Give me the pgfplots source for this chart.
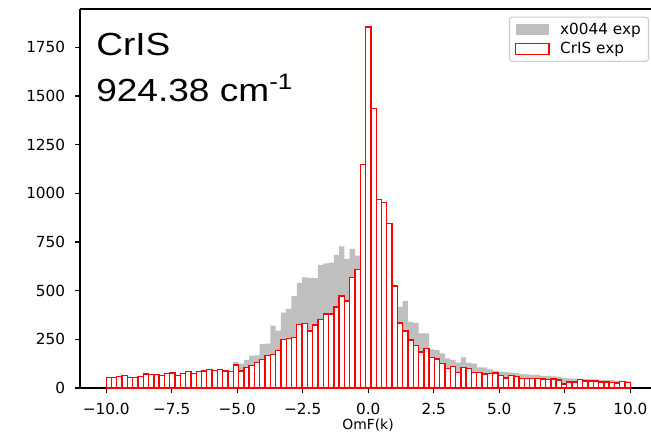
\documentclass[border=0pt]{standalone}
\usepackage{fontspec}
\setmainfont{DejaVu Sans}
\newfontfamily\arialfont[FakeStretch=1.16]{Liberation Sans}
\usepackage{pgfplots}
\usepackage{pgfplotstable}
\pgfplotsset{compat=1.18}
\usetikzlibrary{calc}

\definecolor{histgray}{RGB}{191,191,191}
\definecolor{legendedge}{RGB}{204,204,204}
\definecolor{histred}{RGB}{255,0,0}

% left bin edges (99 bins from -10 to 10), counts per bin
\pgfplotstableread{
edge gray red
-10.0000 50 55
-9.7980 52 55
-9.5960 55 60
-9.3939 58 65
-9.1919 52 55
-8.9899 52 55
-8.7879 56 60
-8.5859 66 72
-8.3838 64 68
-8.1818 64 68
-7.9798 60 63
-7.7778 70 74
-7.5758 72 78
-7.3737 60 63
-7.1717 72 75
-6.9697 80 86
-6.7677 72 75
-6.5657 82 86
-6.3636 84 88
-6.1616 90 96
-5.9596 88 91
-5.7576 92 96
-5.5556 86 88
-5.3535 82 84
-5.1515 135 118
-4.9495 126 88
-4.7475 144 104
-4.5455 166 117
-4.3434 168 132
-4.1414 225 148
-3.9394 228 167
-3.7374 320 171
-3.5354 295 192
-3.3333 388 250
-3.1313 406 255
-2.9293 472 260
-2.7273 540 327
-2.5253 568 332
-2.3232 566 292
-2.1212 565 323
-1.9192 632 352
-1.7172 640 380
-1.5152 644 380
-1.3131 684 417
-1.1111 728 472
-0.9091 662 447
-0.7071 715 568
-0.5051 680 609
-0.3030 690 1148
-0.1010 640 1854
0.1010 600 1435
0.3030 560 970
0.5051 530 953
0.7071 500 845
0.9091 470 525
1.1111 417 334
1.3131 446 292
1.5152 340 246
1.7172 335 217
1.9192 281 186
2.1212 281 202
2.3232 198 156
2.5253 195 150
2.7273 178 125
2.9293 152 101
3.1313 144 111
3.3333 130 80
3.5354 157 106
3.7374 130 99
3.9394 125 79
4.1414 106 79
4.3434 106 72
4.5455 96 74
4.7475 90 77
4.9495 84 64
5.1515 82 52
5.3535 79 64
5.5556 76 60
5.7576 72 48
5.9596 70 48
6.1616 67 48
6.3636 67 50
6.5657 62 47
6.7677 62 43
6.9697 60 46
7.1717 58 41
7.3737 52 21
7.5758 50 32
7.7778 48 32
7.9798 47 45
8.1818 46 36
8.3838 45 36
8.5859 44 36
8.7879 42 32
8.9899 40 32
9.1919 40 27
9.3939 38 26
9.5960 37 34
9.7980 35 27
10.0000 0 0
}\omftable

\begin{document}
\begin{tikzpicture}
\begin{axis}[
    scale only axis,
    width=411.1pt,
    height=272.9pt,
    xmin=-11, xmax=10.79,
    ymin=0, ymax=1947,
    axis lines*=left,
    axis line style={line width=0.8pt, black},
    tick align=outside,
    major tick length=3.5pt,
    major tick style={line width=0.8pt, black},
    xtick={-10,-7.5,-5,-2.5,0,2.5,5,7.5,10},
    xticklabels={−10.0,−7.5,−5.0,−2.5,0.0,2.5,5.0,7.5,10.0},
    ytick={0,250,500,750,1000,1250,1500,1750},
    /pgf/number format/assume math mode=true,
    /pgf/number format/1000 sep={},
    tick label style={font=\fontsize{11}{13}\selectfont, inner sep=0pt},
    xticklabel shift=7pt,
    yticklabel shift=7pt,
    xlabel={OmF(k)},
    every axis x label/.style={at={(axis description cs:0.5044,0)}, anchor=base, yshift=-29.5pt, font=\fontsize{10}{12}\selectfont},
    legend cell align=left,
    legend style={at={(axis description cs:0.9965,0.980)}, anchor=north east,
        draw=legendedge, line width=0.8pt, rounded corners=2pt, fill=white,
        font=\fontsize{11}{13}\selectfont,
        inner xsep=4pt, inner ysep=2.5pt, row sep=1.5pt, column sep=6pt,
        nodes={inner sep=1.5pt}},
]
\addplot[ybar interval, color=histgray, fill=histgray, draw=none,
    legend image code/.code={\fill[histgray, sharp corners] (0pt,-3.8pt) rectangle (24pt,3.8pt);}]
    table[x=edge, y=gray] {\omftable};
\addlegendentry{x0044 exp}
\addplot[ybar interval, color=histred, draw=histred, fill=white, line width=1pt,
    legend image code/.code={\draw[histred, fill=white, line width=1pt, sharp corners] (0pt,-3.8pt) rectangle (24pt,3.8pt);}]
    table[x=edge, y=red] {\omftable};
\addlegendentry{CrIS exp}

\node[anchor=base west, inner sep=0pt, font=\arialfont\fontsize{23}{27}\selectfont]
    at (axis description cs:0.028,0.8786) {CrIS};
\node[anchor=base west, inner sep=0pt, font=\arialfont\fontsize{23}{27}\selectfont]
    at (axis description cs:0.028,0.7554) {924.38 cm\textsuperscript{-1}};
\end{axis}
\draw[line width=0.8pt, black] (current axis.north west) -- (current axis.north east);
\pgfresetboundingbox
\path[use as bounding box] ($(current axis.south west)+(-57.6pt,-32.4pt)$) rectangle ($(current axis.north east)+(0pt,6.48pt)$);
\end{tikzpicture}
\end{document}
